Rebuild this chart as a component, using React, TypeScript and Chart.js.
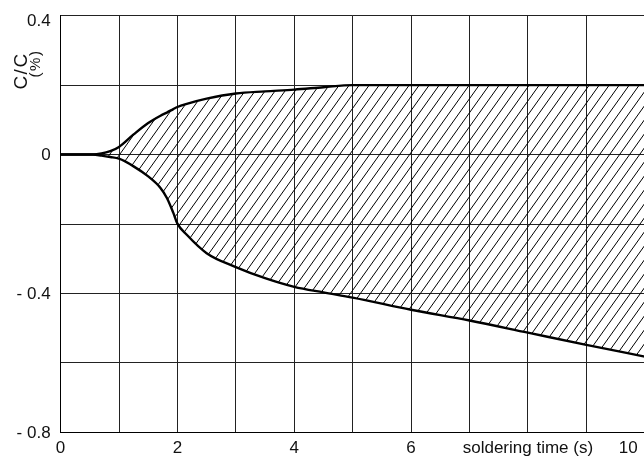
import React, { useEffect, useRef } from 'react';
import { Chart, registerables } from 'chart.js';

Chart.register(...registerables);

// ---- data ----
const timeS = [0, 0.55, 0.7, 0.85, 1, 1.25, 1.5, 1.71, 1.82, 1.93, 2, 2.16, 2.5, 3, 3.5, 4, 4.5, 5, 6, 7, 8, 9, 10];
const upperPct = [0, 0, 0.003, 0.01, 0.022, 0.058, 0.091, 0.112, 0.121, 0.131, 0.137, 0.146, 0.161, 0.176, 0.182, 0.187, 0.194, 0.2, 0.2, 0.2, 0.2, 0.2, 0.2];
const lowerPct = [0, 0, -0.003, -0.007, -0.012, -0.034, -0.063, -0.096, -0.125, -0.168, -0.199, -0.231, -0.284, -0.324, -0.356, -0.381, -0.397, -0.412, -0.447, -0.478, -0.513, -0.548, -0.582];

const xTickValues = [0, 2, 4, 6, 8, 10];
const xTickLabels = ['0', '2', '4', '6', 'soldering time (s)', '10'];
const yTickValues = [0.4, 0, -0.4, -0.8];
const yTickLabels = ['0.4', '0', '- 0.4', '- 0.8'];
const yTitleLines = ['C/C', '(%)'];

const FONT_FAMILY = '"Liberation Sans", Arial, Helvetica, sans-serif';
const INK = '#111';

function makeHatch(): CanvasPattern | string {
  const w = 10;
  const h = 14;
  const c = document.createElement('canvas');
  c.width = w;
  c.height = h;
  const g = c.getContext('2d');
  if (!g) return 'rgba(0,0,0,0.2)';
  g.strokeStyle = '#000';
  g.lineWidth = 1;
  for (const dx of [-w, 0, w]) {
    g.beginPath();
    g.moveTo(dx - w, 2 * h);
    g.lineTo(dx + 2 * w, -h);
    g.stroke();
  }
  return g.createPattern(c, 'repeat') || 'rgba(0,0,0,0.2)';
}

// two-line rotated y-axis title, placed next to the top of the axis
const yTitlePlugin = {
  id: 'yTitleLines',
  afterDraw(chart: any) {
    const ctx = chart.ctx as CanvasRenderingContext2D;
    const specs = [
      { size: 19, spacing: '1.5px', baseX: 27.3, centerY: 71 },
      { size: 15, spacing: '1.5px', baseX: 39.5, centerY: 63.5 },
    ];
    yTitleLines.forEach((line, i) => {
      const s = specs[i];
      ctx.save();
      ctx.font = `${s.size}px ${FONT_FAMILY}`;
      (ctx as any).letterSpacing = s.spacing;
      ctx.fillStyle = INK;
      ctx.textAlign = 'center';
      ctx.textBaseline = 'alphabetic';
      ctx.translate(s.baseX, s.centerY);
      ctx.rotate(-Math.PI / 2);
      ctx.fillText(line, 0, 0);
      ctx.restore();
    });
  },
};

const findIdx = (vals: number[], v: number) => vals.findIndex((t) => Math.abs(t - v) < 1e-6);

export default function App() {
  const ref = useRef<HTMLCanvasElement | null>(null);

  useEffect(() => {
    if (!ref.current) return;
    const hatch = makeHatch();
    const chart = new Chart(ref.current, {
      type: 'line',
      data: {
        datasets: [
          {
            label: 'upper',
            data: timeS.map((t, i) => ({ x: t, y: upperPct[i] })),
            borderColor: '#000',
            borderWidth: 2.4,
            pointRadius: 0,
            cubicInterpolationMode: 'monotone',
            fill: '+1',
            backgroundColor: hatch as any,
          },
          {
            label: 'lower',
            data: timeS.map((t, i) => ({ x: t, y: lowerPct[i] })),
            borderColor: '#000',
            borderWidth: 2.4,
            pointRadius: 0,
            cubicInterpolationMode: 'monotone',
            fill: false,
          },
        ],
      },
      options: {
        animation: false,
        responsive: false,
        events: [],
        layout: { padding: { top: 15.7, right: 3.3, bottom: 0, left: 0 } },
        plugins: {
          legend: { display: false },
          tooltip: { enabled: false },
        },
        scales: {
          x: {
            type: 'linear',
            min: 0,
            max: 10,
            grid: { color: '#222', lineWidth: 1, drawTicks: false },
            border: { color: '#000', width: 1 },
            ticks: {
              stepSize: 1,
              autoSkip: false,
              maxRotation: 0,
              minRotation: 0,
              padding: 6,
              color: INK,
              font: { family: FONT_FAMILY, size: 17 },
              callback: (v: any) => {
                const i = findIdx(xTickValues, Number(v));
                if (i < 0) return '';
                const lab = xTickLabels[i];
                return i === xTickValues.length - 1 ? lab + '\u00a0'.repeat(7) : lab;
              },
            },
            afterFit: (scale: any) => {
              scale.height = 25.7;
              scale.paddingLeft = 0;
              scale.paddingRight = 0;
            },
          },
          y: {
            type: 'linear',
            min: -0.8,
            max: 0.4,
            grid: { color: '#222', lineWidth: 1, drawTicks: false },
            border: { color: '#000', width: 1 },
            ticks: {
              stepSize: 0.2,
              autoSkip: false,
              padding: 10,
              labelOffset: 1,
              color: INK,
              font: (ctx: any) => {
                const top = ctx.tick && Math.abs(ctx.tick.value - yTickValues[0]) < 1e-6;
                return { family: FONT_FAMILY, size: 17, lineHeight: top ? '10px' : 1.2 };
              },
              callback: (v: any) => {
                const i = findIdx(yTickValues, Number(v));
                if (i < 0) return '';
                return i === 0 ? ['', yTickLabels[i]] : yTickLabels[i];
              },
            },
            afterFit: (scale: any) => {
              scale.width = 60.6;
              scale.paddingTop = 0;
              scale.paddingBottom = 0;
            },
          },
        },
      } as any,
      plugins: [yTitlePlugin],
    });
    return () => chart.destroy();
  }, []);

  return (
    <div
      style={{
        position: 'fixed',
        left: 0,
        top: 0,
        width: 644,
        height: 458,
        overflow: 'hidden',
        background: '#fff',
      }}
    >
      <canvas ref={ref} width={648} height={458} style={{ display: 'block', width: 648, height: 458 }} />
    </div>
  );
}
